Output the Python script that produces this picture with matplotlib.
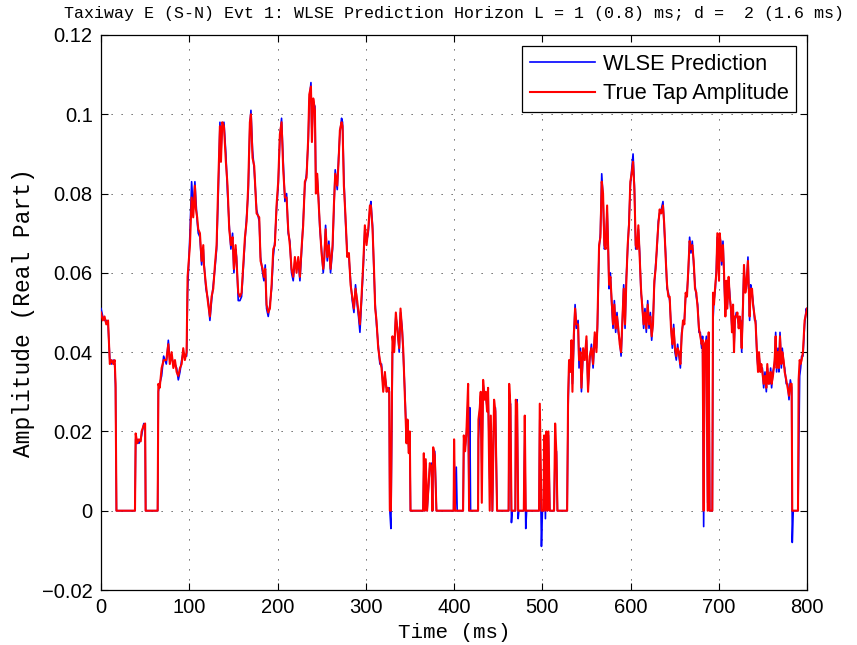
import matplotlib
matplotlib.use("Agg")
import matplotlib.pyplot as plt

# ---------------- data ----------------
time_ms = [
    0, 2, 4, 6, 8, 10, 12, 14, 15.5, 16.5, 17.5, 38.5, 39.3, 41, 43, 45, 46, 48.5, 50, 50.6,
    64.2, 65, 66.5, 68.7, 71, 74, 76.3, 78, 80, 82, 83.8, 85.7, 87.6, 89.5, 91.4, 93.2, 95, 97,
    98.1, 100.8, 102.7, 104.5, 106.4, 107.6, 109, 110.2, 112.1, 114.0, 115.9, 116.6, 118.9,
    121.5, 123.4, 125.3, 127.2, 129.1, 131.0, 132.9, 134.8, 135.9, 137.4, 139.3, 141.5, 143.4,
    145.3, 147.2, 149.1, 150.6, 152.5, 153.6, 155.5, 157.4, 159.3, 161.2, 163.1, 165.0, 166.8,
    168.7, 169.9, 171.7, 173.6, 176.3, 179.3, 180.8, 183.1, 184.6, 186.1, 187.6, 189.5, 191.4,
    193.3, 195.2, 197.0, 198.9, 200.8, 202.7, 204.6, 206.5, 208.4, 210.3, 212.1, 214.0, 215.9,
    217.8, 219.7, 221.6, 223.5, 225.4, 227.2, 229.1, 231.0, 232.9, 234.8, 236.0, 237.9, 239.0,
    240.5, 242.4, 243.5, 245.0, 246.5, 248.0, 249.9, 251.8, 253.0, 254.5, 256.4, 258.2, 260.1,
    262.4, 263.9, 265.4, 267.7, 269.2, 270.7, 272.6, 273.7, 275.2, 277.1, 279.0, 280.9, 282.8,
    284.7, 286.6, 288.4, 290.3, 291.8, 293.4, 295.2, 297.1, 299.0, 300.9, 302.8, 304.7, 305.8,
    307.7, 309.2, 310.7, 312.2, 314.1, 316.0, 317.9, 319.8, 321.7, 323.6, 325.4, 326.6, 327.3,
    328.5, 330.3, 332.2, 334.1, 336.0, 337.9, 339.4, 341.3, 342.4, 344.3, 346.2, 347.3, 348.8,
    349.9, 350.7, 365.0, 365.8, 366.9, 368.0, 369.5, 372.6, 374.5, 375.6, 376.4, 378.2, 380.1,
    399.6, 400.1, 401.3, 402.6, 403.6, 410.3, 411.1, 412.6, 414.1, 416.0, 417.1, 417.9, 418.8,
    427.3, 427.7, 429.2, 430.3,
    431.5, 433.0, 434.5, 436.0, 437.5, 438.6, 440.5, 441.7, 443.5, 445.4, 446.9, 448.8, 461.9,
    462.5, 464.0, 465.1, 466.0, 469.5, 470.0, 471.5, 472.7, 473.5, 479.1, 480.2, 481.3, 482.3,
    496.4, 497.2, 499.1, 500.2,
    501.5, 502.1, 503.6, 504.7, 505.9, 507.0, 508.5, 513.4, 514.6, 516.1, 517.2, 528.2, 529.3,
    530.4, 531.9, 533.1, 534.2, 535.7, 537.2, 538.7, 540.6, 541.7, 543.3, 544.4, 546.3, 548.2,
    550.1, 551.9, 553.8, 555.7, 557.6, 559.5, 561.4, 562.5, 564.4, 565.9, 567.4, 568.9, 570.4,
    571.9, 573.5, 574.6, 575.7, 577.2, 578.7, 580.2, 581.7, 583.2, 584.7, 586.2, 587.8, 589.3,
    590.4, 592.3, 593.8, 595.3, 596.8, 598.3, 599.8, 601.3, 602.9, 604.4, 605.9, 607.4, 608.9,
    610.4, 611.9, 613.4, 614.9, 616.4, 617.9, 619.5, 621.0, 622.5, 624.0, 625.5, 627.0, 628.5,
    630.0, 631.5, 633.0, 634.9, 636.8, 638.3, 639.8, 641.4, 642.9, 644.4, 645.9, 647.4, 648.9,
    650.4, 651.9, 653.4, 654.9, 656.5, 658.0, 659.5, 661.0, 662.5, 664.0, 665.5, 667.0, 668.5,
    670.0, 671.6, 673.1, 674.6, 676.1, 677.6, 679.1, 680.6, 681.7, 682.9, 684.0, 686.0, 687.5,
    688.6, 689.7, 692.7, 693.5, 694.6, 696.1, 697.3, 698.4, 700.3, 701.1, 702.2, 703.3, 704.8,
    706.0, 707.5, 708.6, 709.7, 711.2, 712.4, 713.9, 715.0, 716.2, 717.3, 718.4, 719.9, 721.1,
    722.6, 723.7, 724.8, 726.0, 727.5, 728.6, 730.1, 731.3, 733.1, 735.0, 736.2, 737.7, 738.8,
    740.7, 741.8, 743.3, 744.5, 745.6, 747.1, 748.2, 749.4, 750.9, 752.4, 753.9, 755.0, 756.5,
    757.7, 758.8, 759.9, 761.4, 763.3, 764.5, 765.6, 767.1, 768.2, 769.4, 770.9, 772.0, 773.5,
    774.7, 776.5, 778.1, 779.6, 781.1, 782.6, 783.3, 784.4, 789.8, 790.5, 791.7, 792.8, 793.9,
    795.4, 797.3, 799.2, 800,
]

true_amplitude = [
    0.050, 0.048, 0.049, 0.047, 0.048, 0.037, 0.038, 0.037, 0.038, 0.032, 0.0, 0.0, 0.0195, 0.017, 0.018, 0.0175, 0.020, 0.0216, 0.022, 0.0,
    0.0, 0.032, 0.031, 0.036, 0.038, 0.038, 0.042, 0.037, 0.040, 0.036, 0.038, 0.035, 0.034, 0.036, 0.037, 0.041, 0.038, 0.040,
    0.059, 0.067, 0.079, 0.074, 0.082, 0.076, 0.074, 0.071, 0.070, 0.063, 0.067, 0.062, 0.057,
    0.052, 0.049, 0.054, 0.056, 0.062, 0.067, 0.083, 0.097, 0.088, 0.098, 0.097, 0.088, 0.082,
    0.071, 0.067, 0.069, 0.061, 0.067, 0.063, 0.055, 0.054, 0.055, 0.062, 0.069, 0.073, 0.082,
    0.098, 0.100, 0.089, 0.087, 0.075, 0.074, 0.063, 0.061, 0.059, 0.061, 0.052, 0.050, 0.051,
    0.057, 0.066, 0.067, 0.077, 0.083, 0.095, 0.098, 0.086, 0.079, 0.079, 0.071, 0.067, 0.061,
    0.059, 0.064, 0.060, 0.064, 0.059, 0.066, 0.072, 0.083, 0.084, 0.094, 0.105, 0.107, 0.093,
    0.104, 0.101, 0.080, 0.085, 0.078, 0.072, 0.065, 0.061, 0.064, 0.071, 0.064, 0.067, 0.061,
    0.067, 0.077, 0.085, 0.082, 0.088, 0.096, 0.098, 0.097, 0.082, 0.074, 0.064, 0.065, 0.057,
    0.054, 0.051, 0.056, 0.053, 0.050, 0.047, 0.054, 0.062, 0.072, 0.067, 0.071, 0.077, 0.077,
    0.071, 0.062, 0.051, 0.048, 0.041, 0.038, 0.036, 0.030, 0.035, 0.030, 0.031, 0.030, 0.0,
    0.0, 0.044, 0.040, 0.050, 0.045, 0.041, 0.051, 0.045, 0.041, 0.029, 0.017, 0.023, 0.0145,
    0.020, 0.0, 0.0, 0.0145, 0.0, 0.013, 0.0, 0.012, 0.011, 0.0, 0.016, 0.014, 0.0,
    0.0, 0.018, 0.0, 0.0, 0.0, 0.0, 0.019, 0.015, 0.020, 0.032, 0.0, 0.0, 0.0,
    0.0, 0.023, 0.026, 0.030,
    0.002, 0.033, 0.028, 0.030, 0.025, 0.031, 0.0, 0.024, 0.0, 0.028, 0.025, 0.0, 0.0,
    0.032, 0.026, 0.0, 0.0, 0.0, 0.028, 0.027, 0.0, 0.0, 0.0, 0.024, 0.0, 0.0,
    0.0, 0.027, 0.0, 0.0,
    0.0, 0.019, 0.0, 0.020, 0.0, 0.020, 0.0, 0.0, 0.022, 0.014, 0.0, 0.0, 0.029,
    0.038, 0.035, 0.043, 0.030, 0.044, 0.051, 0.047, 0.047, 0.038, 0.040, 0.031, 0.041, 0.038,
    0.044, 0.030, 0.039, 0.041, 0.037, 0.045, 0.040, 0.047, 0.067, 0.069, 0.083, 0.080, 0.067,
    0.066, 0.077, 0.067, 0.057, 0.059, 0.053, 0.047, 0.052, 0.046, 0.049, 0.046, 0.042, 0.040,
    0.046, 0.056, 0.047, 0.058, 0.067, 0.072, 0.083, 0.085, 0.088, 0.081, 0.067, 0.066, 0.072,
    0.064, 0.056, 0.051, 0.047, 0.050, 0.046, 0.052, 0.047, 0.049, 0.044, 0.047, 0.058, 0.061,
    0.067, 0.072, 0.076, 0.075, 0.077, 0.072, 0.064, 0.057, 0.054, 0.054, 0.046, 0.042, 0.046,
    0.041, 0.039, 0.041, 0.040, 0.037, 0.044, 0.048, 0.047, 0.055, 0.054, 0.061, 0.068, 0.066,
    0.067, 0.063, 0.056, 0.055, 0.051, 0.046, 0.044, 0.042, 0.043, 0.0, 0.042, 0.043, 0.0,
    0.045, 0.0, 0.0, 0.055, 0.052, 0.057, 0.060, 0.070, 0.058, 0.070, 0.067, 0.063, 0.067,
    0.060, 0.049, 0.058, 0.051, 0.059, 0.054, 0.051, 0.045, 0.052, 0.040, 0.049, 0.049, 0.050,
    0.046, 0.049, 0.047, 0.041, 0.052, 0.062, 0.055, 0.057, 0.063, 0.049, 0.056, 0.056, 0.052,
    0.049, 0.047, 0.040, 0.035, 0.040, 0.035, 0.037, 0.035, 0.032, 0.034, 0.031, 0.037, 0.032,
    0.033, 0.035, 0.032, 0.034, 0.038, 0.044, 0.036, 0.040, 0.036, 0.044, 0.037, 0.040, 0.038,
    0.035, 0.033, 0.031, 0.029, 0.032, 0.032, 0.0, 0.0, 0.0, 0.033, 0.038, 0.037, 0.038,
    0.040, 0.048, 0.050, 0.051,
]

wlse_prediction = [
    0.051, 0.049, 0.048, 0.048, 0.047, 0.038, 0.037, 0.038, 0.037, 0.031, 0.0, 0.0, 0.018, 0.018, 0.017, 0.018, 0.019, 0.022, 0.021, 0.0,
    0.0, 0.030, 0.032, 0.034, 0.039, 0.037, 0.043, 0.038, 0.039, 0.037, 0.037, 0.036, 0.033, 0.035, 0.038, 0.040, 0.039, 0.039,
    0.055, 0.070, 0.083, 0.076, 0.083, 0.078, 0.073, 0.070, 0.069, 0.062, 0.066, 0.063, 0.056,
    0.053, 0.048, 0.053, 0.057, 0.061, 0.066, 0.080, 0.098, 0.090, 0.097, 0.098, 0.090, 0.080,
    0.072, 0.066, 0.070, 0.060, 0.066, 0.064, 0.053, 0.053, 0.054, 0.061, 0.068, 0.074, 0.080,
    0.097, 0.101, 0.091, 0.086, 0.076, 0.073, 0.064, 0.060, 0.058, 0.062, 0.051, 0.049, 0.052,
    0.056, 0.064, 0.068, 0.076, 0.082, 0.094, 0.099, 0.088, 0.078, 0.080, 0.070, 0.068, 0.060,
    0.058, 0.063, 0.061, 0.063, 0.058, 0.065, 0.073, 0.082, 0.085, 0.093, 0.103, 0.108, 0.095,
    0.103, 0.102, 0.082, 0.084, 0.079, 0.071, 0.066, 0.060, 0.063, 0.072, 0.063, 0.068, 0.060,
    0.066, 0.076, 0.086, 0.081, 0.089, 0.095, 0.099, 0.098, 0.084, 0.073, 0.065, 0.064, 0.058,
    0.053, 0.050, 0.057, 0.052, 0.049, 0.045, 0.053, 0.061, 0.071, 0.068, 0.070, 0.076, 0.078,
    0.072, 0.061, 0.052, 0.047, 0.042, 0.037, 0.037, 0.031, 0.034, 0.031, 0.030, 0.031, 0.0,
    -0.0045, 0.040, 0.041, 0.049, 0.046, 0.040, 0.050, 0.046, 0.040, 0.030, 0.018, 0.022, 0.015,
    0.019, 0.0, 0.0, 0.010, 0.0, 0.012, 0.0, 0.011, 0.012, 0.0, 0.015, 0.015, 0.0,
    0.0, 0.014, 0.0, 0.011, 0.0, 0.0, 0.017, 0.016, 0.019, 0.028, 0.0, 0.026, 0.0,
    0.0, 0.018, 0.025, 0.029,
    0.012, 0.032, 0.029, 0.029, 0.026, 0.030, 0.008, 0.021, 0.0, 0.026, 0.026, 0.0, 0.0,
    0.026, 0.027, -0.003, 0.0, 0.0, 0.024, 0.028, -0.002, 0.0, 0.0, 0.019, -0.0045, 0.0,
    0.0, 0.023, -0.009, 0.0,
    0.0, 0.016, -0.002, 0.018, 0.0, 0.019, 0.0, 0.0, 0.015, 0.015, 0.0, 0.0, 0.026,
    0.037, 0.036, 0.041, 0.032, 0.042, 0.052, 0.046, 0.048, 0.036, 0.041, 0.030, 0.040, 0.039,
    0.043, 0.031, 0.038, 0.042, 0.036, 0.044, 0.041, 0.046, 0.066, 0.070, 0.085, 0.079, 0.066,
    0.067, 0.076, 0.068, 0.056, 0.060, 0.052, 0.046, 0.053, 0.045, 0.050, 0.045, 0.043, 0.039,
    0.045, 0.057, 0.046, 0.059, 0.066, 0.073, 0.082, 0.086, 0.090, 0.082, 0.066, 0.067, 0.071,
    0.065, 0.055, 0.052, 0.046, 0.051, 0.045, 0.053, 0.046, 0.050, 0.043, 0.048, 0.057, 0.062,
    0.066, 0.073, 0.075, 0.076, 0.078, 0.071, 0.065, 0.056, 0.055, 0.053, 0.047, 0.041, 0.047,
    0.040, 0.038, 0.042, 0.039, 0.036, 0.045, 0.047, 0.048, 0.054, 0.055, 0.060, 0.069, 0.065,
    0.068, 0.062, 0.057, 0.054, 0.052, 0.045, 0.045, 0.041, 0.044, -0.004, 0.040, 0.044, 0.002,
    0.044, 0.0, 0.0, 0.048, 0.053, 0.056, 0.061, 0.069, 0.059, 0.069, 0.068, 0.062, 0.068,
    0.059, 0.050, 0.057, 0.052, 0.058, 0.055, 0.050, 0.046, 0.051, 0.041, 0.048, 0.050, 0.049,
    0.047, 0.048, 0.048, 0.040, 0.053, 0.061, 0.056, 0.056, 0.064, 0.048, 0.057, 0.055, 0.053,
    0.048, 0.048, 0.039, 0.036, 0.039, 0.036, 0.036, 0.036, 0.031, 0.035, 0.030, 0.036, 0.033,
    0.032, 0.036, 0.031, 0.035, 0.037, 0.045, 0.035, 0.041, 0.035, 0.045, 0.036, 0.041, 0.037,
    0.036, 0.032, 0.032, 0.028, 0.033, 0.031, -0.008, 0.0, 0.0, 0.012, 0.034, 0.036, 0.039,
    0.039, 0.047, 0.051, 0.050,
]

x_ticks = [0, 100, 200, 300, 400, 500, 600, 700, 800]
y_ticks = [-0.02, 0, 0.02, 0.04, 0.06, 0.08, 0.1, 0.12]
y_tick_labels = ["\u22120.02", "0", "0.02", "0.04", "0.06", "0.08", "0.1", "0.12"]

title_text = "Taxiway E (S-N) Evt 1: WLSE Prediction Horizon L = 1 (0.8) ms; d =  2 (1.6 ms)"
x_label = "Time (ms)"
y_label = "Amplitude (Real Part)"
legend_labels = ["WLSE Prediction", "True Tap Amplitude"]

# ---------------- figure ----------------
sans = ["Liberation Sans", "DejaVu Sans"]
mono = ["Liberation Mono", "DejaVu Sans Mono"]

fig = plt.figure(figsize=(8.57, 6.45), dpi=100)
ax = fig.add_axes([101 / 857, 55 / 645, 706 / 857, 555 / 645])

ax.plot(time_ms, wlse_prediction, color=(0, 0, 1), lw=1.2, label=legend_labels[0], zorder=3)
ax.plot(time_ms, true_amplitude, color=(1, 0, 0), lw=1.5, label=legend_labels[1], zorder=4)

ax.set_xlim(0, 800)
ax.set_ylim(-0.02, 0.12)
ax.set_xticks(x_ticks)
ax.set_yticks(y_ticks)
ax.set_xticklabels([str(v) for v in x_ticks], fontfamily=sans, fontsize=14.5)
ax.set_yticklabels(y_tick_labels, fontfamily=sans, fontsize=14.5)
ax.tick_params(direction="in", length=5, width=0.8, top=True, right=True, pad=6)

ax.grid(True, color="0.2", linestyle=(0, (1.5, 10.5)), linewidth=0.6)
ax.set_axisbelow(True)
for s in ax.spines.values():
    s.set_linewidth(0.9)
    s.set_color("black")

ax.set_title(title_text, fontfamily=mono, fontsize=12, pad=12)
ax.set_xlabel(x_label, fontfamily=mono, fontsize=15, labelpad=4)
ax.set_ylabel(y_label, fontfamily=mono, fontsize=16.5, labelpad=5)

leg = ax.legend(loc="upper right", prop={"family": sans, "size": 15.7}, fancybox=False,
                framealpha=1, edgecolor="black", handlelength=3.0, handletextpad=0.35,
                borderpad=0.35, labelspacing=0.4, borderaxespad=0.5)
leg.get_frame().set_linewidth(0.9)

fig.savefig("out.png", dpi=100)
